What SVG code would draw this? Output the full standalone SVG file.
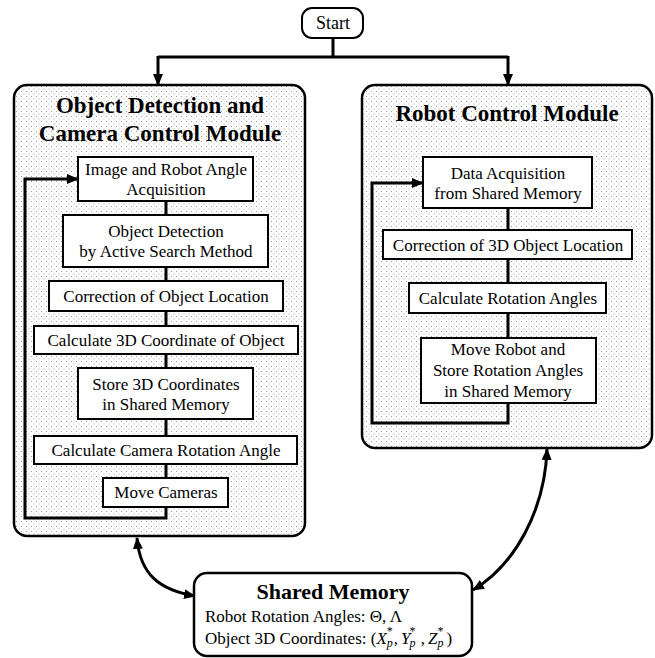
<svg xmlns="http://www.w3.org/2000/svg" width="655" height="658" viewBox="0 0 655 658">
<defs>
<pattern id="dots" width="5" height="5" patternUnits="userSpaceOnUse">
<rect width="5" height="5" fill="#ffffff"/>
<rect x="1" y="1" width="1" height="1" fill="#9a9a9a"/>
<rect x="3.5" y="3.5" width="1" height="1" fill="#b0b0b0"/>
</pattern>
<marker id="ah" viewBox="0 0 12 10" refX="11" refY="5" markerWidth="12" markerHeight="10" markerUnits="userSpaceOnUse" orient="auto-start-reverse">
<path d="M0,0 L12,5 L0,10 Z" fill="#000"/>
</marker>
</defs>
<style>
.module{fill:url(#dots);stroke:#000;stroke-width:2.5}
.box{fill:#fff;stroke:#000;stroke-width:2}
.sm{fill:#fff;stroke:#000;stroke-width:2.5}
.t{font-family:"Liberation Serif","Times New Roman",serif;font-size:17px;fill:#000;text-anchor:middle}
.h{font-family:"Liberation Serif","Times New Roman",serif;font-size:23px;font-weight:bold;fill:#000;text-anchor:middle}
.b{font-family:"Liberation Serif","Times New Roman",serif;font-size:17px;fill:#000}
.c{fill:none;stroke:#000;stroke-width:3}
</style>

<g id="module-left">
<rect class="module" x="14" y="85" width="291" height="451" rx="13"/>
<text class="h" x="160" y="113">Object Detection and</text>
<text class="h" x="160" y="141">Camera Control Module</text>
</g>
<g id="module-right">
<rect class="module" x="362" y="85" width="290" height="363" rx="13"/>
<text class="h" x="507" y="121">Robot Control Module</text>
</g>

<g id="connectors">
<path class="c" d="M333,38 V57"/>
<path class="c" d="M158,57 H508"/>
<path class="c" d="M158,56 V85" marker-end="url(#ah)"/>
<path class="c" d="M508,56 V85" marker-end="url(#ah)"/>
<path class="c" d="M166,201 V518 H25 V179 H78" marker-end="url(#ah)"/>
<path class="c" d="M508,208 V423 H372 V183 H423" marker-end="url(#ah)"/>
<path class="c" d="M137,538 C140,575 160,590 195,596" marker-start="url(#ah)" marker-end="url(#ah)"/>
<path class="c" d="M547,449 C545,510 515,565 473,590" marker-start="url(#ah)" marker-end="url(#ah)"/>
</g>

<g id="start">
<rect class="box" x="302" y="8" width="61" height="30" rx="10"/>
<text class="t" x="333" y="29" style="font-size:18px">Start</text>
</g>

<g id="l1"><rect class="box" x="78" y="157" width="175" height="44"/>
<text class="t" x="166" y="175">Image and Robot Angle</text><text class="t" x="166" y="195">Acquisition</text></g>
<g id="l2"><rect class="box" x="63" y="215" width="205" height="52"/>
<text class="t" x="166" y="237">Object Detection</text><text class="t" x="166" y="257">by Active Search Method</text></g>
<g id="l3"><rect class="box" x="49" y="281" width="234" height="30"/>
<text class="t" x="166" y="302">Correction of Object Location</text></g>
<g id="l4"><rect class="box" x="34" y="326" width="264" height="28"/>
<text class="t" x="166" y="346">Calculate 3D Coordinate of Object</text></g>
<g id="l5"><rect class="box" x="78" y="368" width="175" height="51"/>
<text class="t" x="166" y="390">Store 3D Coordinates</text><text class="t" x="166" y="410">in Shared Memory</text></g>
<g id="l6"><rect class="box" x="34" y="436" width="263" height="28"/>
<text class="t" x="166" y="456">Calculate Camera Rotation Angle</text></g>
<g id="l7"><rect class="box" x="103" y="478" width="125" height="29"/>
<text class="t" x="166" y="498">Move Cameras</text></g>

<g id="r1"><rect class="box" x="423" y="157" width="169" height="51"/>
<text class="t" x="508" y="179">Data Acquisition</text><text class="t" x="508" y="199">from Shared Memory</text></g>
<g id="r2"><rect class="box" x="383" y="230" width="249" height="29"/>
<text class="t" x="508" y="251">Correction of 3D Object Location</text></g>
<g id="r3"><rect class="box" x="409" y="283" width="197" height="30"/>
<text class="t" x="508" y="304">Calculate Rotation Angles</text></g>
<g id="r4"><rect class="box" x="421" y="338" width="175" height="65"/>
<text class="t" x="508" y="355">Move Robot and</text><text class="t" x="508" y="376">Store Rotation Angles</text><text class="t" x="508" y="397">in Shared Memory</text></g>

<g id="shared-memory">
<rect class="sm" x="194" y="573" width="278" height="83" rx="13"/>
<text class="h" x="333" y="599" style="font-size:22px">Shared Memory</text>
<text class="b" x="205" y="622">Robot Rotation Angles: Θ, Λ</text>
<text class="b" x="205" y="644">Object 3D Coordinates: (<tspan font-style="italic">X</tspan><tspan font-style="italic" font-size="12" dy="3">p</tspan><tspan font-size="12" dx="-6" dy="-12">*</tspan><tspan dx="1" dy="9">,</tspan><tspan font-style="italic" dx="3">Y</tspan><tspan font-style="italic" font-size="12" dx="-1" dy="3">p</tspan><tspan font-size="12" dx="-6" dy="-12">*</tspan><tspan dx="1" dy="9"> ,</tspan><tspan font-style="italic" dx="3">Z</tspan><tspan font-style="italic" font-size="12" dy="3">p</tspan><tspan font-size="12" dx="-6" dy="-12">*</tspan><tspan dx="3" dy="9">)</tspan></text>
</g>
</svg>
